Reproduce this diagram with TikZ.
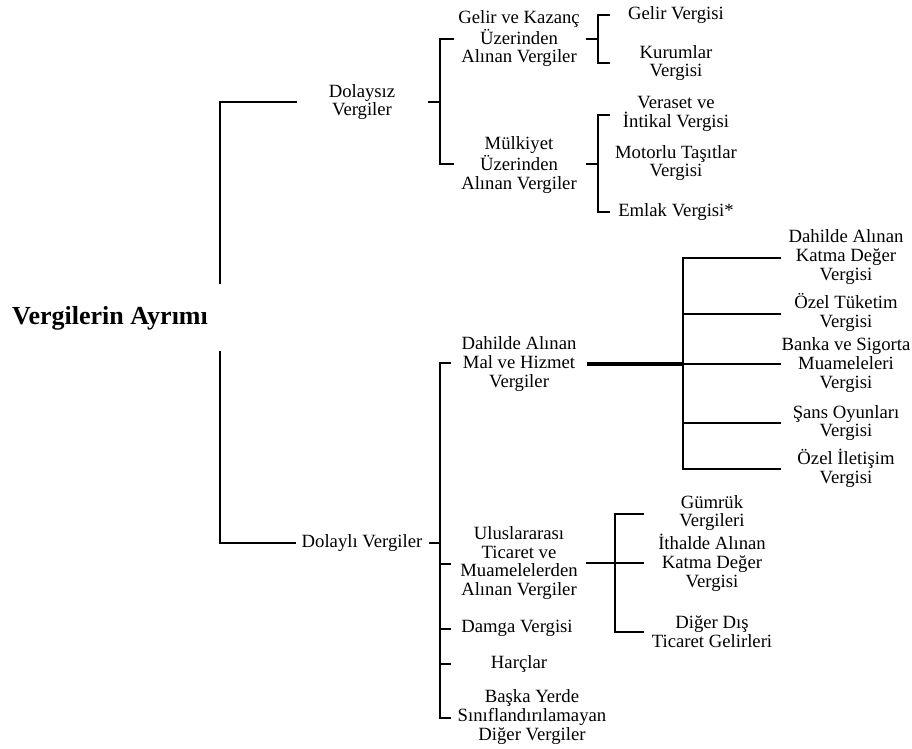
\documentclass[tikz,border=0pt]{standalone}
\usepackage{fontspec}
\setmainfont{Liberation Serif}
\begin{document}
\begin{tikzpicture}[x=1pt,y=-1pt,
  txt/.style={align=center,inner sep=0pt,font=\fontsize{18.7}{18.9}\selectfont},
  ttl/.style={inner sep=0pt,font=\fontsize{26}{28}\selectfont\bfseries},
  ln/.style={line width=2pt,line cap=rect},
  thk/.style={line width=3.2pt}]
\useasboundingbox (0,0) rectangle (912,748);
% text nodes
\node[ttl] (root) at (110,318) {Vergilerin Ayrımı};
\node[txt] (dolaysiz) at (362,102) {Dolaysız\\Vergiler};
\node[txt] (dolayli) at (362,543) {Dolaylı Vergiler};
\node[txt] (gk) at (519,39) {Gelir ve Kazanç\\Üzerinden\\Alınan Vergiler};
\node[txt] (mulk) at (519,165) {Mülkiyet\\Üzerinden\\Alınan Vergiler};
\node[txt] (gelirv) at (676,15) {Gelir Vergisi};
\node[txt] (kurumlar) at (676,63) {Kurumlar\\Vergisi};
\node[txt] (veraset) at (676,114) {Veraset ve\\İntikal Vergisi};
\node[txt] (motorlu) at (676,163) {Motorlu Taşıtlar\\Vergisi};
\node[txt] (emlak) at (676,212) {Emlak Vergisi*};
\node[txt] (dahilde) at (519,364) {Dahilde Alınan\\Mal ve Hizmet\\Vergiler};
\node[txt] (ulus) at (519,563) {Uluslararası\\Ticaret ve\\Muamelelerden\\Alınan Vergiler};
\node[txt] (damga) at (517,628) {Damga Vergisi};
\node[txt] (harclar) at (519,664) {Harçlar};
\node[txt] (baska) at (532,717) {Başka Yerde\\Sınıflandırılamayan\\Diğer Vergiler};
\node[txt] (kdv) at (846,257) {Dahilde Alınan\\Katma Değer\\Vergisi};
\node[txt] (otv) at (846,312) {Özel Tüketim\\Vergisi};
\node[txt] (banka) at (846,365) {Banka ve Sigorta\\Muameleleri\\Vergisi};
\node[txt] (sans) at (846,423) {Şans Oyunları\\Vergisi};
\node[txt] (iletisim) at (846,468) {Özel İletişim\\Vergisi};
\node[txt] (gumruk) at (712,513) {Gümrük\\Vergileri};
\node[txt] (ithalde) at (712,563) {İthalde Alınan\\Katma Değer\\Vergisi};
\node[txt] (digerdis) at (712,632) {Diğer Dış\\Ticaret Gelirleri};
% junction coordinates
\coordinate (rTop) at (220,283);
\coordinate (rBot) at (220,352);
\coordinate (rA) at (220,102);
\coordinate (rB) at (220,543);
\coordinate (dA) at (296,102);
\coordinate (dB) at (295,543);
% root
\draw[ln] (dA) -- (rA) -- (rTop);
\draw[ln] (rBot) -- (rB) -- (dB);
% Dolaysiz bracket
\coordinate (s1) at (440,102);
\draw[ln] (429,102) -- (s1);
\draw[ln] (453,39) -- (440,39) -- (440,164) -- (453,164);
% Gelir bracket
\draw[ln] (587,39) -- (598,39);
\draw[ln] (609,15) -- (598,15) -- (598,63) -- (609,63);
% Mulkiyet bracket
\draw[ln] (587,164) -- (598,164);
\draw[ln] (609,115) -- (598,115) -- (598,212) -- (609,212);
% Dolayli bracket
\draw[ln] (430,543) -- (440,543);
\draw[ln] (450,363) -- (440,363) -- (440,718) -- (450,718);
\foreach \yy in {564,629,664} \draw[ln] (440,\yy) -- (450,\yy);
% Dahilde bracket
\draw[thk] (587,364) -- (683,364);
\draw[line width=2.6pt] (683,257) -- (683,470);
\foreach \yy in {258,314,364,423,469} \draw[ln] (683,\yy) -- (780,\yy);
% Uluslararasi bracket
\draw[ln] (587,563) -- (643,563);
\draw[ln] (643,514) -- (615,514) -- (615,632) -- (643,632);
\end{tikzpicture}
\end{document}
